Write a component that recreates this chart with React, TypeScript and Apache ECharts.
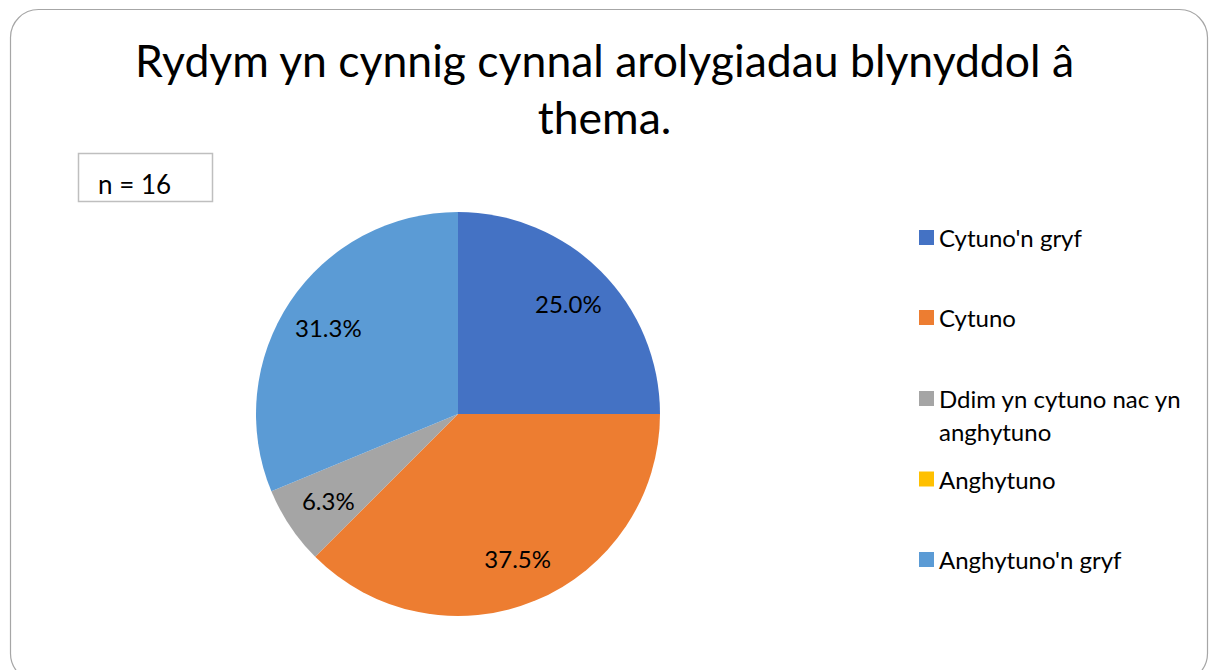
import React, { useEffect, useRef } from "react";
import * as echarts from "echarts";

const titleLines = ["Rydym yn cynnig cynnal arolygiadau blynyddol â", "thema."];
const categories = [
  "Cytuno'n gryf",
  "Cytuno",
  "Ddim yn cytuno nac yn anghytuno",
  "Anghytuno",
  "Anghytuno'n gryf",
];
const legendLabels = [
  "Cytuno'n gryf",
  "Cytuno",
  "\nDdim yn cytuno nac yn\nanghytuno",
  "Anghytuno",
  "Anghytuno'n gryf",
];
const counts = [4, 6, 1, 0, 5];
const colors = ["#4472C4", "#ED7D31", "#A5A5A5", "#FFC000", "#5B9BD5"];
const nLabel = "n = 16";

const FONT = "Lato, 'Noto Sans', sans-serif";

export default function App() {
  const ref = useRef<HTMLDivElement>(null);
  useEffect(() => {
    document.body.style.margin = "0";
    if (!ref.current) return;
    const chart = echarts.init(ref.current, null, { renderer: "svg" });
    const data = categories.map((name, i) => ({
      name,
      value: counts[i],
      itemStyle: { color: colors[i] },
    }));
    const legendTops = [221, 301, 349, 462.5, 543];
    const legends = categories.map((name, i) => ({
      show: true,
      orient: "vertical",
      left: 919,
      top: legendTops[i],
      padding: 0,
      itemWidth: 15,
      itemHeight: 15,
      icon: "rect",
      selectedMode: false,
      data: [{ name, itemStyle: { color: colors[i] } }],
      formatter: () => legendLabels[i],
      textStyle: {
        fontFamily: FONT,
        fontSize: 24,
        color: "#000",
        lineHeight: 33,
      },
    }));
    chart.setOption({
      animation: false,
      backgroundColor: "#fff",
      title: {
        text: titleLines.join("\n"),
        left: "center",
        top: 26,
        textStyle: {
          fontFamily: FONT,
          fontSize: 44.5,
          fontWeight: "normal",
          color: "#000",
          lineHeight: 57,
        },
      },
      legend: legends,
      graphic: [
        {
          type: "rect",
          shape: { x: 10.5, y: 9.5, width: 1197, height: 672, r: 28 },
          style: { fill: "none", stroke: "#A6A6A6", lineWidth: 1.2 },
          silent: true,
          z: 0,
        },
        {
          type: "rect",
          shape: { x: 78.5, y: 153.5, width: 134, height: 48 },
          style: { fill: "#fff", stroke: "#BFBFBF", lineWidth: 1.5 },
          silent: true,
        },
        {
          type: "text",
          x: 98,
          y: 184,
          style: {
            text: nLabel,
            fontFamily: FONT,
            fontSize: 26,
            fill: "#000",
            verticalAlign: "middle",
          },
          silent: true,
        },
      ],
      series: [
        {
          type: "pie",
          center: [458, 414],
          radius: [0, 202],
          startAngle: 90,
          clockwise: true,
          avoidLabelOverlap: false,
          label: { show: false },
          labelLine: { show: false },
          emphasis: { disabled: true },
          data,
        },
        {
          type: "pie",
          center: [458, 414],
          radius: [104, 202],
          startAngle: 90,
          clockwise: true,
          silent: true,
          avoidLabelOverlap: false,
          itemStyle: { color: "rgba(0,0,0,0)" },
          labelLine: { show: false },
          emphasis: { disabled: true },
          label: {
            show: true,
            position: "inside",
            fontFamily: FONT,
            fontSize: 24,
            color: "#000",
            formatter: (p: any) => (p.value === 0 ? "" : p.percent.toFixed(1) + "%"),
          },
          data: categories.map((name, i) => ({
            name,
            value: counts[i],
            itemStyle: { color: "rgba(0,0,0,0)" },
          })),
        },
      ],
    });
    return () => chart.dispose();
  }, []);
  return <div ref={ref} style={{ width: 1209, height: 670 }} />;
}
